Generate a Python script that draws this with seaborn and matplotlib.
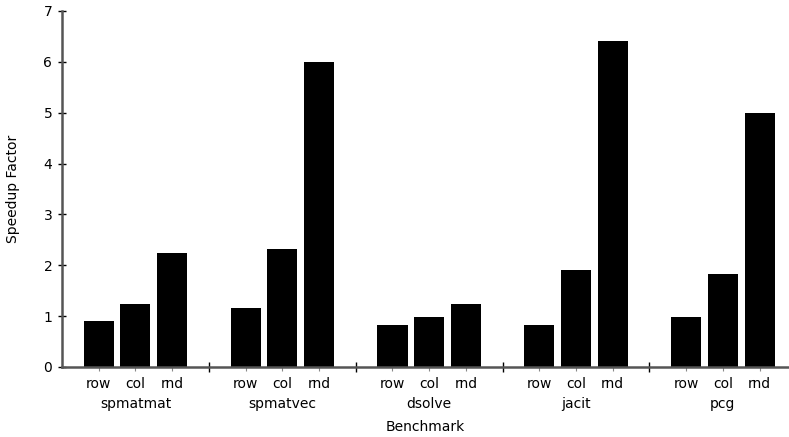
import pandas as pd
import matplotlib
matplotlib.use("Agg")
import matplotlib.pyplot as plt
import matplotlib.transforms as mtransforms
import seaborn as sns

# Donnees
benchmarks = ["spmatmat", "spmatvec", "dsolve", "jacit", "pcg"]
layouts = ["row", "col", "rnd"]
speedup_row = [0.90, 1.16, 0.83, 0.83, 0.98]
speedup_col = [1.24, 2.32, 0.98, 1.91, 1.83]
speedup_rnd = [2.24, 6.00, 1.24, 6.41, 5.00]

rows = []
for g, name in enumerate(benchmarks):
    for i, (lay, vals) in enumerate(zip(layouts, [speedup_row, speedup_col, speedup_rnd])):
        rows.append({"bench": name, "layout": lay, "pos": g * 4 + i, "speedup": vals[g]})
df = pd.DataFrame(rows)

sns.set_style("ticks")
plt.rcParams["font.family"] = ["DejaVu Sans"]
plt.rcParams["font.size"] = 10
plt.rcParams["text.color"] = "black"
plt.rcParams["axes.labelcolor"] = "black"
plt.rcParams["xtick.labelcolor"] = "black"
plt.rcParams["ytick.labelcolor"] = "black"

fig = plt.figure(figsize=(7.89, 4.37), dpi=100)
ax = fig.add_axes([62 / 789, 70 / 437, 727 / 789, 356 / 437])

sns.barplot(data=df, x="pos", y="speedup", native_scale=True, color="black",
            width=0.82, saturation=1, ax=ax, edgecolor="none")

ax.set_xlim(-1.0, 18.8)
ax.set_ylim(0, 7)
ax.set_yticks(range(0, 8))
ax.set_xticks(df["pos"])
ax.set_xticklabels(df["layout"])
ax.set_xticks([g * 4 + 3 for g in range(len(benchmarks) - 1)], minor=True)

for side in ["top", "right"]:
    ax.spines[side].set_visible(False)
for side in ["left", "bottom"]:
    ax.spines[side].set_color("#555555")
    ax.spines[side].set_linewidth(1.8)

ax.tick_params(axis="y", direction="inout", length=6, width=1, color="black", pad=4,
               labelsize=10)
ax.tick_params(axis="x", which="major", direction="out", length=3, width=0.8,
               color="#888888", pad=4, labelsize=10)
ax.tick_params(axis="x", which="minor", direction="inout", length=7, width=1, color="black")

# noms des benchmarks sous chaque groupe
trans = mtransforms.blended_transform_factory(ax.transData, ax.transAxes)
for g, name in enumerate(benchmarks):
    ax.text(g * 4 + 1, -0.105, name, transform=trans, ha="center", va="center", fontsize=10)

ax.set_xlabel("Benchmark", fontsize=10, labelpad=21)
ax.set_ylabel("Speedup Factor", fontsize=10, labelpad=17)

fig.savefig("out.png", dpi=100)
